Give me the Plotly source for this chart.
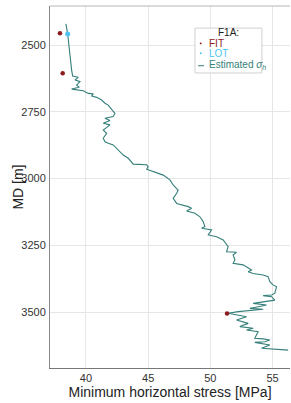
import plotly.graph_objects as go

# Estimated minimum horizontal stress profile (MPa) vs measured depth (m)
est_sh = [38.39, 38.53, 38.85, 38.93, 39.38, 39.12, 39.52, 39.25, 39.46, 38.85,
          39.78, 40.18, 40.59, 40.46, 40.86, 41.26, 41.53, 41.79, 42.06, 42.33,
          42.19, 41.53, 41.93, 41.39, 41.93, 41.53, 41.39, 41.66, 41.39, 41.53,
          41.79, 42.19, 42.47, 42.73, 43.00, 43.40, 43.67, 43.80, 44.88, 45.00,
          44.88, 45.41, 46.21, 46.75, 47.01, 47.41, 47.29, 47.01, 47.29, 48.22,
          48.49, 48.09, 48.76, 49.16, 49.42, 49.56, 49.29, 50.10, 49.83, 50.50,
          51.03, 51.43, 51.30, 52.10, 51.83, 51.97, 51.83, 52.63, 53.04, 53.31,
          53.04, 53.44, 54.24, 54.64, 54.78, 55.04, 55.32, 55.18, 54.92, 54.24,
          54.92, 55.18, 53.44, 54.51, 53.17, 54.24, 52.23, 51.43, 52.91, 52.10,
          53.04, 52.37, 53.44, 52.91, 53.84, 53.57, 54.24, 54.78, 54.38, 53.57,
          54.78, 54.11, 56.25]
est_md = [2421, 2459, 2594, 2616, 2621, 2631, 2637, 2650, 2658, 2665,
          2671, 2681, 2683, 2691, 2696, 2706, 2718, 2725, 2741, 2756,
          2768, 2774, 2783, 2793, 2799, 2812, 2818, 2831, 2849, 2862,
          2868, 2874, 2887, 2899, 2912, 2924, 2937, 2946, 2948, 2956,
          2965, 2974, 2987, 3005, 3024, 3043, 3055, 3074, 3093, 3105,
          3111, 3121, 3130, 3143, 3161, 3180, 3186, 3192, 3211, 3218,
          3230, 3255, 3274, 3276, 3286, 3305, 3317, 3323, 3336, 3342,
          3349, 3355, 3361, 3367, 3386, 3398, 3405, 3429, 3436, 3438,
          3442, 3455, 3467, 3473, 3486, 3489, 3498, 3504, 3517, 3529,
          3542, 3554, 3560, 3567, 3573, 3598, 3600, 3604, 3611, 3613,
          3623, 3635, 3642]

fit_sh = [37.91, 38.13, 51.34]
fit_md = [2456, 2606, 3505]
lot_sh = [38.53]
lot_md = [2459]

x_ticks = [40, 45, 50, 55]
y_ticks = [2500, 2750, 3000, 3250, 3500]

FIT_C = "#8e1b1b"
LOT_C = "#4cc3f2"
EST_C = "#347f79"
FONT = "Liberation Sans, Arial, sans-serif"

fig = go.Figure()
fig.add_trace(go.Scatter(x=est_sh, y=est_md, mode="lines",
                         line=dict(color=EST_C, width=1.1), name="Estimated σh",
                         showlegend=False))
fig.add_trace(go.Scatter(x=fit_sh, y=fit_md, mode="markers",
                         marker=dict(color=FIT_C, size=4.5), name="FIT",
                         showlegend=False))
fig.add_trace(go.Scatter(x=lot_sh, y=lot_md, mode="markers",
                         marker=dict(color=LOT_C, size=5), name="LOT",
                         showlegend=False))

# manual compact legend (paper coordinates)
lx0, lx1, ly0, ly1 = 0.604, 0.883, 0.815, 0.939
shapes = [
    dict(type="rect", xref="paper", yref="paper", x0=lx0, x1=lx1, y0=ly0, y1=ly1,
         line=dict(color="#d0d0d0", width=1), fillcolor="rgba(255,255,255,0.9)", layer="above"),
    dict(type="circle", xref="paper", yref="paper", x0=0.624, x1=0.632, y0=0.894, y1=0.8995,
         line=dict(width=0), fillcolor=FIT_C, layer="above"),
    dict(type="circle", xref="paper", yref="paper", x0=0.624, x1=0.632, y0=0.8665, y1=0.872,
         line=dict(width=0), fillcolor=LOT_C, layer="above"),
    dict(type="line", xref="paper", yref="paper", x0=0.617, x1=0.642, y0=0.835, y1=0.835,
         line=dict(color=EST_C, width=1), layer="above"),
    dict(type="line", xref="paper", yref="paper", x0=0, x1=1, y0=1, y1=1,
         line=dict(color="#b5b5b5", width=1), layer="above"),
]
annotations = [
    dict(xref="paper", yref="paper", x=(lx0 + lx1) / 2, y=0.927, text="F1A:",
         showarrow=False, font=dict(family=FONT, size=10, color="#222"),
         xanchor="center", yanchor="middle"),
    dict(xref="paper", yref="paper", x=0.655, y=0.897, text="FIT",
         showarrow=False, font=dict(family=FONT, size=10, color=FIT_C),
         xanchor="left", yanchor="middle"),
    dict(xref="paper", yref="paper", x=0.655, y=0.869, text="LOT",
         showarrow=False, font=dict(family=FONT, size=10, color=LOT_C),
         xanchor="left", yanchor="middle"),
    dict(xref="paper", yref="paper", x=0.655, y=0.836,
         text="Estimated <i>σ</i><sub><i>h</i></sub>",
         showarrow=False, font=dict(family=FONT, size=10, color=EST_C),
         xanchor="left", yanchor="middle"),
    dict(xref="paper", yref="paper", x=-0.135, y=0.5, text="MD [m]", textangle=-90,
         showarrow=False, font=dict(family=FONT, size=14, color="#222"),
         xanchor="center", yanchor="middle"),
]

fig.update_layout(
    width=291, height=403,
    margin=dict(l=50, r=1, t=6, b=35),
    paper_bgcolor="white", plot_bgcolor="white",
    font=dict(family=FONT, color="#333"),
    shapes=shapes, annotations=annotations,
    showlegend=False,
)
fig.update_xaxes(range=[37.11, 56.4], tickvals=x_ticks, ticks="",
                 showgrid=True, gridcolor="#e6e6e6", gridwidth=1,
                 showline=True, linecolor="#777", linewidth=1,
                 zeroline=False, tickfont=dict(size=11, color="#333"),
                 title=dict(text="Minimum horizontal stress [MPa]",
                            font=dict(size=14, color="#222"), standoff=1))
fig.update_yaxes(range=[3709, 2354], tickvals=y_ticks, ticks="",
                 showgrid=True, gridcolor="#e6e6e6", gridwidth=1,
                 showline=True, linecolor="#888", linewidth=1,
                 zeroline=False, tickfont=dict(size=11, color="#333"),
                 ticklabelstandoff=1)

fig.write_html("out.html", config={"displayModeBar": False},
               post_script="document.body.style.margin='0';document.body.style.overflow='hidden';")
